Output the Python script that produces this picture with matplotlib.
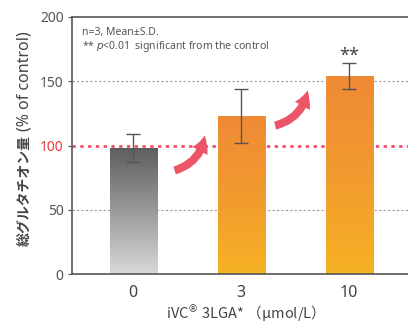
import matplotlib
matplotlib.use("Agg")
import matplotlib.pyplot as plt
import numpy as np
from matplotlib.patches import FancyArrowPatch
from matplotlib.colors import LinearSegmentedColormap

plt.rcParams['font.family'] = ['Noto Sans', 'Noto Sans CJK JP', 'DejaVu Sans']

categories = ['0', '3', '10']
means = [98, 123, 154]
sds = [11, 21, 10]
yticks = [0, 50, 100, 150, 200]

fig = plt.figure(figsize=(4.08, 3.23), dpi=100)
W, H = 408, 323
ax = fig.add_axes([72 / W, (H - 274) / H, (414 - 72) / W, (274 - 17) / H])

x = np.arange(len(categories))
bw = 0.435
bars = ax.bar(x, means, width=bw, color='none', zorder=2)

gray_cmap = LinearSegmentedColormap.from_list('g', ['#d9d9db', '#9a9a9c', '#5e5e60'])
orange_cmap = LinearSegmentedColormap.from_list('o', ['#f6b224', '#f29a2e', '#ef8a36'])
grad = np.linspace(0, 1, 256).reshape(-1, 1)
for i, b in enumerate(bars):
    cmap = gray_cmap if i == 0 else orange_cmap
    x0, y0 = b.get_x(), b.get_y()
    w, h = b.get_width(), b.get_height()
    im = ax.imshow(grad, cmap=cmap, origin='lower', aspect='auto',
                   extent=[x0, x0 + w, y0, y0 + h], zorder=2)
    im.set_clip_path(b)

ax.errorbar(x, means, yerr=sds, fmt='none', ecolor='#555555', elinewidth=1.0,
            capsize=5, capthick=1.0, zorder=3)

ax.set_xlim(-0.565, 2.6)
ax.set_ylim(0, 200)

for yv in [50, 150]:
    ax.axhline(yv, color='#9a9a9a', linestyle=(0, (2, 2)), linewidth=0.8, zorder=1)
ax.axhline(100, color='#f0506a', linestyle=(0, (1.2, 1.6)), linewidth=2.0, zorder=1)

ax.set_xticks(x)
ax.set_xticklabels(categories, fontsize=11.5, color='#444444')
ax.set_yticks(yticks)
ax.set_yticklabels([str(v) for v in yticks], fontsize=10, color='#555555')
for lbl in ax.get_yticklabels():
    if lbl.get_text() == '100':
        lbl.set_color('#e8383f')
        lbl.set_fontweight('bold')
ax.tick_params(axis='x', length=0, pad=8)
ax.tick_params(axis='y', length=3, color='#555555', pad=3)

for s in ['left', 'bottom', 'top', 'right']:
    ax.spines[s].set_color('#555555')
    ax.spines[s].set_linewidth(1.2)

# arrows
arrow_kw = dict(arrowstyle='simple,head_length=0.9,head_width=0.95,tail_width=0.45',
                color='#ec5568', linewidth=0, zorder=4)
ax.add_patch(FancyArrowPatch((0.36, 80), (0.667, 110),
                             connectionstyle='arc3,rad=0.35', mutation_scale=13, **arrow_kw))
ax.add_patch(FancyArrowPatch((1.29, 115), (1.62, 145),
                             connectionstyle='arc3,rad=0.35', mutation_scale=13, **arrow_kw))

ax.text(2, 170, '**', ha='center', va='center', fontsize=13, fontweight='bold', color='#444444')

ax.text(0.03, 0.94, 'n=3, Mean±S.D.', transform=ax.transAxes,
        fontsize=7.5, color='#555555', va='center', ha='left')
ax.text(0.03, 0.887, r'** $\it{p}$<0.01  significant from the control', transform=ax.transAxes,
        fontsize=7.5, color='#555555', va='center', ha='left')

fig.text(25 / W, (H - 246) / H, '総グルタチオン量', rotation=90, ha='center', va='bottom',
         fontsize=10, fontweight='bold', color='#444444', family=['Noto Sans CJK JP'])
fig.text(25 / W, (H - 131) / H, '(% of control)', rotation=90, ha='center', va='bottom',
         fontsize=11.5, color='#444444')
fig.text(242 / W, (H - 313) / H, 'iVC$^{®}$ 3LGA* （μmol/L）', ha='center', va='center',
         fontsize=10.5, color='#444444', family=['Noto Sans CJK JP', 'DejaVu Sans'])

fig.savefig('out.png', dpi=100)
